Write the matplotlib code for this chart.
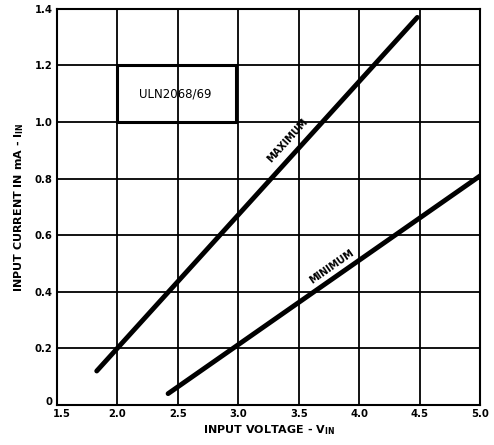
import matplotlib
matplotlib.use("Agg")
import matplotlib.pyplot as plt
import matplotlib.transforms as mtransforms
from matplotlib.patches import Rectangle

# curve end points
max_v = [1.83, 4.48]
max_i = [0.12, 1.37]
min_v = [2.42, 5.0]
min_i = [0.04, 0.81]

x_ticks = [1.5, 2.0, 2.5, 3.0, 3.5, 4.0, 4.5, 5.0]
x_labels = ["1.5", "2.0", "2.5", "3.0", "3.5", "4.0", "4.5", "5.0"]
y_ticks = [0, 0.2, 0.4, 0.6, 0.8, 1.0, 1.2, 1.4]
y_labels = ["0", "0.2", "0.4", "0.6", "0.8", "1.0", "1.2", "1.4"]

fig = plt.figure(figsize=(4.94, 4.45), dpi=100)
ax = fig.add_axes([0.115, 0.09, 0.857, 0.89])

ax.set_xlim(1.5, 5.0)
ax.set_ylim(0, 1.4)
ax.set_xticks(x_ticks)
ax.set_xticklabels(x_labels)
ax.set_yticks(y_ticks)
ax.set_yticklabels(y_labels)
ax.tick_params(length=0, labelsize=8, pad=3)
for lab in ax.get_xticklabels() + ax.get_yticklabels():
    lab.set_fontweight("bold")
    lab.set_fontstretch("condensed")

# nudge the corner labels apart like the original
xl = ax.get_xticklabels()[0]
xl.set_transform(xl.get_transform() + mtransforms.ScaledTranslation(5/100, 0, fig.dpi_scale_trans))
yl = ax.get_yticklabels()[0]
yl.set_transform(yl.get_transform() + mtransforms.ScaledTranslation(0, 4/100, fig.dpi_scale_trans))

ax.grid(True, color="black", linewidth=1.3)
for s in ax.spines.values():
    s.set_linewidth(1.5)

ax.plot(max_v, max_i, color="black", linewidth=3.5, solid_capstyle="round")
ax.plot(min_v, min_i, color="black", linewidth=3.5, solid_capstyle="round")

ax.text(3.41, 0.935, "MAXIMUM", rotation=47.8, rotation_mode="anchor",
        ha="center", va="center", fontsize=7, fontweight="bold")
ax.text(3.77, 0.49, "MINIMUM", rotation=35, rotation_mode="anchor",
        ha="center", va="center", fontsize=7, fontweight="bold")

ax.add_patch(Rectangle((2.0, 1.0), 0.98, 0.2, fill=False, edgecolor="black", linewidth=2.2))
ax.text(2.48, 1.1, "ULN2068/69", ha="center", va="center", fontsize=8.5)

ax.set_xlabel("INPUT VOLTAGE - V$_{\\mathbf{IN}}$", fontsize=8, fontweight="bold", labelpad=3)
ax.set_ylabel("INPUT CURRENT IN mA - I$_{\\mathbf{IN}}$", fontsize=8, fontweight="bold", labelpad=6)

fig.savefig("out.png", dpi=100)
